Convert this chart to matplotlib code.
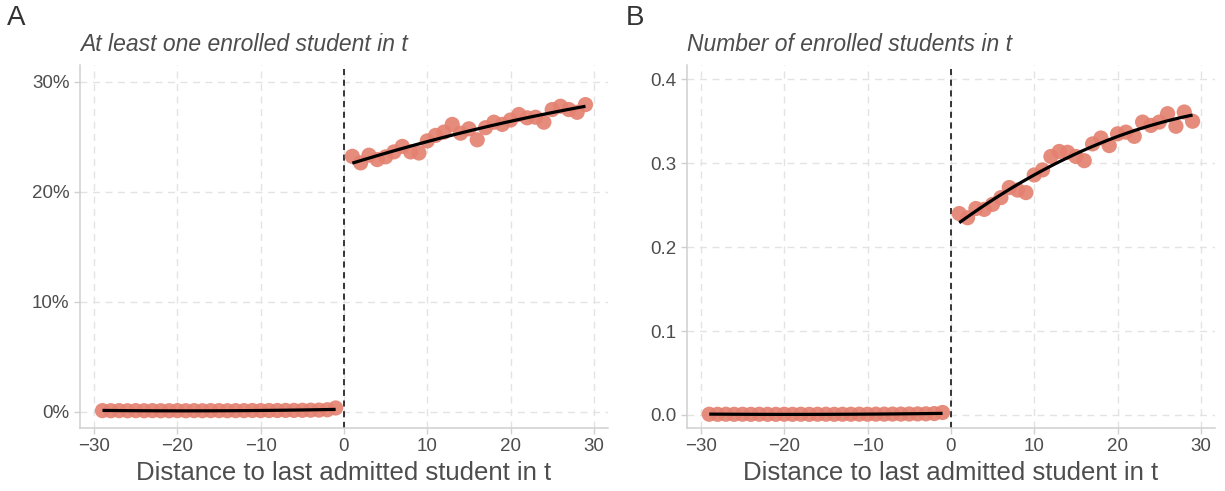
import matplotlib
matplotlib.use('Agg')
import matplotlib.pyplot as plt
import numpy as np

plt.rcParams['font.family'] = ['Liberation Sans', 'DejaVu Sans']

# distance to last admitted student
dist_left = list(range(-29, 0))
dist_right = list(range(1, 30))

# panel A: share with at least one enrolled student
a_left = [0.0008, 0.0007, 0.0008, 0.0007, 0.0008, 0.0007, 0.0008, 0.0007, 0.0007, 0.0008,
          0.0007, 0.0008, 0.0007, 0.0008, 0.0008, 0.0007, 0.0008, 0.0008, 0.0009, 0.0008,
          0.0009, 0.0009, 0.0010, 0.0010, 0.0011, 0.0012, 0.0013, 0.0016, 0.0032]
a_right = [0.232, 0.226, 0.233, 0.229, 0.2315, 0.236, 0.241, 0.236, 0.235, 0.246,
           0.251, 0.254, 0.261, 0.253, 0.257, 0.247, 0.258, 0.263, 0.261, 0.265,
           0.270, 0.267, 0.2675, 0.263, 0.2745, 0.2775, 0.2745, 0.272, 0.279]

# panel B: number of enrolled students
b_left = [0.0009, 0.0008, 0.0009, 0.0008, 0.0009, 0.0008, 0.0009, 0.0008, 0.0008, 0.0009,
          0.0008, 0.0009, 0.0008, 0.0009, 0.0009, 0.0008, 0.0009, 0.0009, 0.0010, 0.0009,
          0.0010, 0.0010, 0.0011, 0.0011, 0.0012, 0.0013, 0.0014, 0.0017, 0.0030]
b_right = [0.240, 0.235, 0.246, 0.245, 0.251, 0.259, 0.271, 0.268, 0.265, 0.286,
           0.292, 0.308, 0.314, 0.313, 0.308, 0.303, 0.323, 0.330, 0.321, 0.335,
           0.337, 0.332, 0.349, 0.345, 0.349, 0.359, 0.344, 0.361, 0.350]

pt_color = '#E4806F'
grid_c = '#E3E3E3'
spine_c = '#D0D0D0'
text_c = '#4D4D4D'

fig = plt.figure(figsize=(12.25, 4.91), dpi=100)
axA = fig.add_axes([0.0653, 0.1283, 0.4310, 0.7393])
axB = fig.add_axes([0.5606, 0.1283, 0.4313, 0.7393])


def panel(ax, yl, yr, ylim, yticks, ylabels, title):
    for xs, ys in [(dist_left, yl), (dist_right, yr)]:
        ax.scatter(xs, ys, s=120, color=pt_color, alpha=0.9, edgecolors='none', zorder=3)
        c = np.polyfit(xs, ys, 2)
        xx = np.linspace(min(xs), max(xs), 100)
        ax.plot(xx, np.polyval(c, xx), color='black', lw=2.3, zorder=4, solid_capstyle='butt')
    ax.axvline(0, color='black', lw=1.1, ls=(0, (4, 3)), zorder=2)
    ax.set_xlim(-31.7, 31.7)
    ax.set_ylim(*ylim)
    ax.set_xticks([-30, -20, -10, 0, 10, 20, 30])
    ax.set_xticklabels(['\u221230', '\u221220', '\u221210', '0', '10', '20', '30'])
    ax.set_yticks(yticks)
    ax.set_yticklabels(ylabels)
    ax.grid(True, color=grid_c, ls=(0, (5, 4)), lw=1.0, zorder=0)
    ax.set_axisbelow(True)
    for s in ['top', 'right']:
        ax.spines[s].set_visible(False)
    for s in ['left', 'bottom']:
        ax.spines[s].set_color(spine_c)
        ax.spines[s].set_linewidth(1.1)
    ax.tick_params(colors=spine_c, labelcolor=text_c, labelsize=13.5, length=4, width=1.0)
    ax.set_xlabel('Distance to last admitted student in t', fontsize=18.5, color=text_c, labelpad=4)
    ax.set_title(title, loc='left', fontsize=16.5, style='italic', color=text_c, pad=10)


panel(axA, a_left, a_right, (-0.015, 0.315), [0, 0.1, 0.2, 0.3],
      ['0%', '10%', '20%', '30%'], 'At least one enrolled student in t')
panel(axB, b_left, b_right, (-0.0155, 0.417), [0.0, 0.1, 0.2, 0.3, 0.4],
      ['0.0', '0.1', '0.2', '0.3', '0.4'], 'Number of enrolled students in t')

fig.text(0.006, 0.963, 'A', fontsize=20, color='#333333', va='center', ha='left')
fig.text(0.511, 0.963, 'B', fontsize=20, color='#333333', va='center', ha='left')

plt.savefig('out.png', dpi=100)
